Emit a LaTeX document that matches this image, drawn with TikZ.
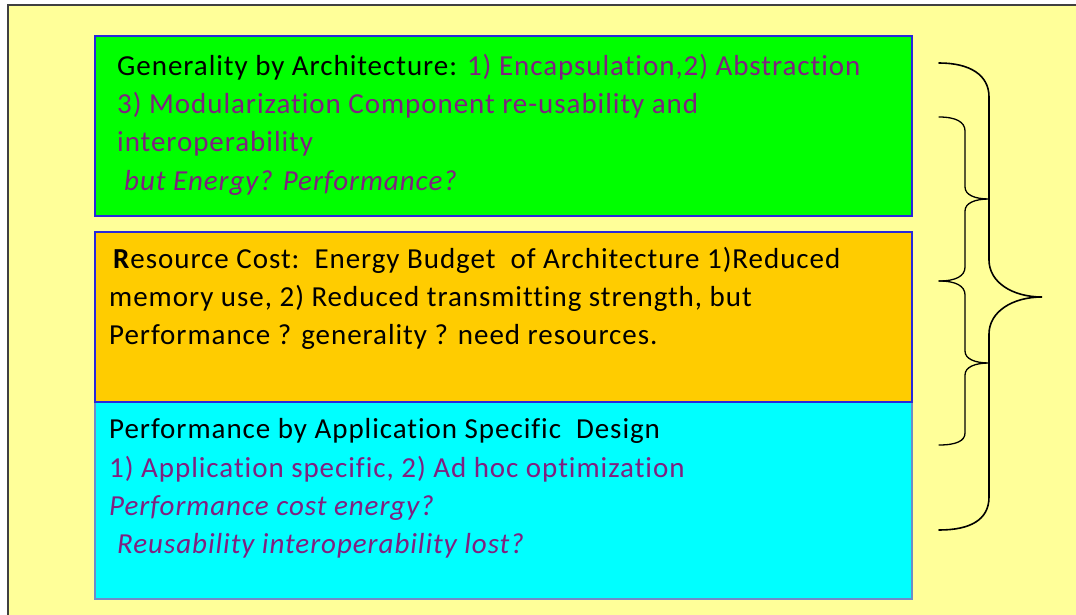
\documentclass[tikz,border=0pt]{standalone}
\usepackage{fontspec}
\setmainfont{Carlito}[LetterSpace=3.3,Ligatures=NoCommon]
\begin{document}
\definecolor{paper}{RGB}{255,255,153}
\definecolor{frameline}{RGB}{64,64,64}
\definecolor{boxgreen}{RGB}{0,255,0}
\definecolor{boxorange}{RGB}{255,204,0}
\definecolor{boxcyan}{RGB}{0,255,255}
\definecolor{edgeblue}{RGB}{40,40,220}
\definecolor{edgegrey}{RGB}{110,140,200}
\definecolor{violet}{RGB}{128,32,128}
\begin{tikzpicture}[x=1pt,y=-1pt,
  panel/.style={line width=1.2pt},
  txt/.style={anchor=base west,inner sep=0pt,font=\fontsize{29}{32}\selectfont},
  accent/.style={txt,text=violet},
  slanted/.style={accent,font=\fontsize{29}{32}\selectfont\itshape},
  bracepath/.style={line width=1.6pt,line cap=round,black}]
\useasboundingbox (0,0) rectangle (1076,615);
% page background and frame
\fill[white] (0,0) rectangle (1076,615);
\fill[paper] (8,5) rectangle (1080,620);
\draw[frameline,line width=2pt] (8,620) -- (8,5) -- (1080,5);
% three stacked panels
\draw[panel,draw=edgegrey,fill=boxcyan] (95,402) rectangle (912,599);
\draw[panel,draw=edgeblue,fill=boxorange] (95,232) rectangle (912,402);
\draw[panel,draw=edgeblue,fill=boxgreen] (95,36) rectangle (912,216);
% generality panel
\node[txt] (g1) at (117,76) {Generality by Architecture: \textcolor{violet}{1) Encapsulation,2) Abstraction}};
\node[accent] (g2) at (117,114) {3) Modularization Component re-usability and};
\node[accent] (g3) at (117,152) {interoperability};
\node[slanted] (g4) at (124,190) {but Energy? Performance?};
% resource panel
\node[txt] (r1) at (113,268) {\textbf{R}esource Cost:\ \ Energy Budget\ \ of Architecture 1)Reduced};
\node[txt] (r2) at (109,306) {memory use, 2) Reduced transmitting strength, but};
\node[txt] (r3) at (109,344) {Performance ? generality ? need resources.};
% performance panel
\node[txt] (p1) at (109,438) {Performance by Application Specific\ \ Design};
\node[accent] (p2) at (109,477) {1) Application specific, 2) Ad hoc optimization};
\node[slanted] (p3) at (109,515) {Performance cost energy?};
\node[slanted] (p4) at (117,553) {Reusability interoperability lost?};
% outer brace spanning all panels
\draw[bracepath] (939,63) .. controls (970,63) and (989,75) .. (989,97) -- (989,260)
  .. controls (989,282) and (1012,297) .. (1042,297)
  .. controls (1012,297) and (989,312) .. (989,334) -- (989,497)
  .. controls (989,520) and (970,530) .. (939,530);
% inner braces
\draw[bracepath,line width=1.3pt] (939,117) .. controls (956,117) and (965,122) .. (965,131) -- (965,187)
  .. controls (965,195) and (975,199) .. (989,199)
  .. controls (975,199) and (965,203) .. (965,211) -- (965,267)
  .. controls (965,276) and (956,281) .. (939,281);
\draw[bracepath,line width=1.3pt] (939,281) .. controls (956,281) and (965,286) .. (965,295) -- (965,351)
  .. controls (965,359) and (975,363) .. (989,363)
  .. controls (975,363) and (965,367) .. (965,375) -- (965,433)
  .. controls (965,441) and (956,445) .. (939,445);
\end{tikzpicture}
\end{document}
